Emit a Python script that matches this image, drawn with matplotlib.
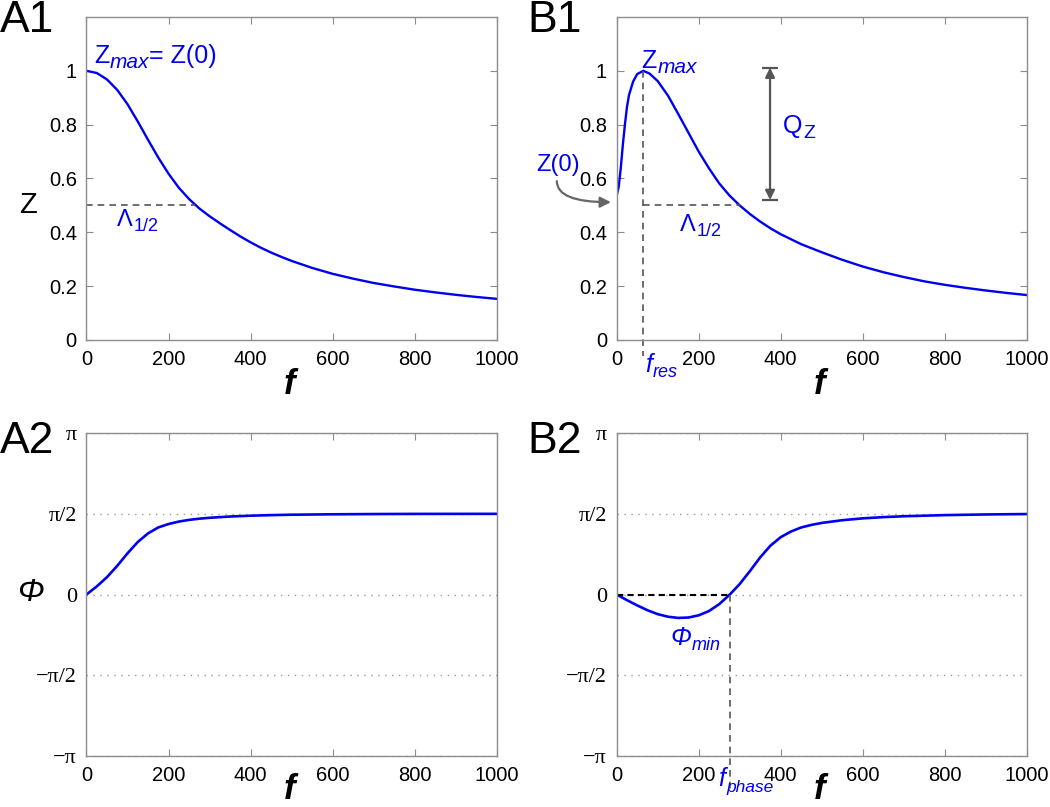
import numpy as np
import matplotlib
matplotlib.use('Agg')
from matplotlib import pyplot as plt

plt.rcParams['font.family'] = 'Liberation Sans'

# impedance profile, panel A1 (low-pass)
f_a1 = [0, 25, 50, 75, 100, 125, 150, 175, 200, 225, 250, 275, 300, 325,
        350, 375, 400, 425, 450, 475, 500, 550, 600, 650, 700, 750, 800,
        850, 900, 950, 1000]
z_a1 = [1.0, 0.992, 0.968, 0.929, 0.876, 0.812, 0.744, 0.678, 0.618, 0.566,
        0.524, 0.489, 0.460, 0.434, 0.409, 0.385, 0.363, 0.343, 0.325, 0.309,
        0.294, 0.268, 0.246, 0.228, 0.212, 0.199, 0.187, 0.177, 0.168, 0.160,
        0.153]

# impedance profile, panel B1 (resonant)
f_b1 = [0, 5, 10, 15, 20, 25, 30, 40, 50, 65, 80, 100, 125, 150, 175, 200,
        225, 250, 275, 300, 325, 350, 375, 400, 450, 500, 550, 600, 650, 700,
        750, 800, 850, 900, 950, 1000]
z_b1 = [0.537, 0.57, 0.64, 0.725, 0.80, 0.865, 0.91, 0.96, 0.988, 1.0, 0.99,
        0.962, 0.908, 0.84, 0.77, 0.70, 0.638, 0.582, 0.537, 0.50, 0.468,
        0.44, 0.415, 0.393, 0.356, 0.326, 0.298, 0.273, 0.252, 0.234, 0.218,
        0.205, 0.194, 0.184, 0.175, 0.167]

# phase profiles (rad)
f_a2 = [0, 25, 50, 75, 100, 125, 150, 175, 200, 225, 250, 275, 300, 350,
        400, 450, 500, 600, 700, 800, 1000]
p_a2 = [0, 0.157, 0.338, 0.558, 0.801, 1.021, 1.189, 1.304, 1.371, 1.418,
        1.451, 1.475, 1.492, 1.517, 1.533, 1.544, 1.552, 1.560, 1.565, 1.568,
        1.569]

f_b2 = [0, 25, 50, 75, 100, 125, 150, 175, 200, 225, 250, 276, 300, 325,
        350, 375, 400, 425, 450, 475, 500, 550, 600, 650, 700, 800, 900, 1000]
p_b2 = [0, -0.110, -0.212, -0.306, -0.382, -0.432, -0.456, -0.448, -0.405,
        -0.322, -0.188, 0, 0.204, 0.456, 0.723, 0.950, 1.115, 1.225, 1.304,
        1.354, 1.392, 1.445, 1.481, 1.505, 1.522, 1.544, 1.557, 1.565]

f_res = 65
f_half_a = 265
f_half_b = 300
f_phase = 276

blue = '#0000f0'
gray = '#555555'
axcol = '#8c8c8c'

W, H = 1050, 807
fig = plt.figure(figsize=(W / 100, H / 100), dpi=100)


def box(left, top, right, bottom):
    return [left / W, 1 - bottom / H, (right - left) / W, (bottom - top) / H]


def style(ax):
    for s in ax.spines.values():
        s.set_color(axcol)
        s.set_linewidth(1)
    ax.tick_params(direction='in', top=True, right=True, length=5,
                   color=axcol, labelsize=14.5, labelcolor='black', pad=7)
    ax.set_xlim(0, 1000)
    ax.set_xticks(range(0, 1001, 200))


def sub_label(ax, x, y, main, sub, size, sub_size, style_main='normal',
              style_sub='italic', dy=-3, **kw):
    t = ax.text(x, y, main, fontsize=size, fontstyle=style_main, color=blue,
                ha='left', va='baseline', **kw)
    s = ax.annotate(sub, xy=(1, 0), xycoords=t, xytext=(0.5, dy),
                    textcoords='offset points', fontsize=sub_size,
                    fontstyle=style_sub, color=blue, ha='left', va='bottom',
                    annotation_clip=False)
    return t, s


def z_axes(ax):
    style(ax)
    ax.set_ylim(0, 1.2)
    ax.set_yticks([0, 0.2, 0.4, 0.6, 0.8, 1])
    ax.set_yticklabels(['0', '0.2', '0.4', '0.6', '0.8', '1'])


def phase_axes(ax):
    style(ax)
    ax.set_ylim(-np.pi, np.pi)
    ax.set_yticks([-np.pi, -np.pi / 2, 0, np.pi / 2, np.pi])
    ax.set_yticklabels(['\u2212\u03c0', '\u2212\u03c0/2', '0', '\u03c0/2', '\u03c0'],
                       fontfamily='Liberation Serif', fontsize=16)
    ax.yaxis.grid(True, linestyle=(0, (1, 4)), color='#9a9a9a', linewidth=1)
    ax.tick_params(axis='y', length=0)


def f_label(ax, y):
    ax.text(0.496, y, 'f', transform=ax.transAxes, fontsize=25,
            fontweight='bold', fontstyle='italic', ha='center', va='center')


# ---------- A1
axA1 = fig.add_axes(box(86.5, 17, 496.5, 340))
z_axes(axA1)
axA1.plot(f_a1, z_a1, color=blue, lw=1.7)
axA1.plot([0, f_half_a], [0.5, 0.5], color=gray, lw=1.2, dashes=(4, 3))
t, s = sub_label(axA1, 18, 1.03, 'Z', 'max', 18, 15)
axA1.annotate('= Z(0)', xy=(1, 0), xycoords=(s, t), xytext=(0, 0),
              textcoords='offset points', fontsize=18, color=blue,
              ha='left', va='bottom')
sub_label(axA1, 74, 0.425, '\u039b', '1/2', 17, 13, style_sub='normal')
axA1.text(-0.143, 0.418, 'Z', transform=axA1.transAxes, fontsize=21,
          ha='center', va='center')
f_label(axA1, -0.139)

# ---------- B1
axB1 = fig.add_axes(box(616.7, 17, 1026.7, 340))
z_axes(axB1)
axB1.plot(f_b1, z_b1, color=blue, lw=1.7)
axB1.plot([f_res, f_res], [1.0, -0.06], color=gray, lw=1.2, dashes=(4, 3),
          clip_on=False)
axB1.plot([f_res, f_half_b], [0.5, 0.5], color=gray, lw=1.2, dashes=(4, 3))
sub_label(axB1, 60, 1.012, 'Z', 'max', 18, 15)
sub_label(axB1, 154, 0.405, '\u039b', '1/2', 17, 13, style_sub='normal')
sub_label(axB1, 405, 0.77, 'Q', 'Z', 18, 14, style_sub='normal')
sub_label(axB1, 70, -0.12, 'f', 'res', 18, 13, style_main='italic',
          clip_on=False)
axB1.annotate('', xy=(374, 0.52), xytext=(374, 1.012),
              arrowprops=dict(arrowstyle='<|-|>', color=gray, lw=1.6,
                              mutation_scale=14, shrinkA=0, shrinkB=0))
axB1.plot([374, 374], [1.012, 0.52], ls='none', marker='_', ms=12, mew=1.6,
          color=gray)
axB1.text(-143, 0.652, 'Z(0)', fontsize=17, color=blue, ha='center',
          va='center', clip_on=False)
axB1.annotate('', xy=(-14, 0.512), xytext=(-146, 0.59),
              arrowprops=dict(arrowstyle='-|>', color='#666666', lw=1.6,
                              mutation_scale=16, shrinkA=0, shrinkB=0,
                              connectionstyle='angle3,angleA=-90,angleB=0'),
              annotation_clip=False)
f_label(axB1, -0.139)

# ---------- A2
axA2 = fig.add_axes(box(86.5, 433, 496.5, 756))
phase_axes(axA2)
axA2.plot(f_a2, p_a2, color=blue, lw=1.9)
axA2.text(-0.138, 0.505, '\u03a6', transform=axA2.transAxes, fontsize=23,
          fontstyle='italic', ha='center', va='center')
f_label(axA2, -0.105)

# ---------- B2
axB2 = fig.add_axes(box(616.7, 433, 1026.7, 756))
phase_axes(axB2)
axB2.plot(f_b2, p_b2, color=blue, lw=1.9)
axB2.plot([0, f_phase], [0, 0], color='black', lw=1.5, dashes=(3, 2))
axB2.plot([f_phase, f_phase], [0, -3.85], color=gray, lw=1.2, dashes=(4, 3),
          clip_on=False)
sub_label(axB2, 130, -0.98, '\u03a6', 'min', 18, 13, style_main='italic')
sub_label(axB2, 248, -3.72, 'f', 'phase', 18, 12.5, style_main='italic',
          clip_on=False)
f_label(axB2, -0.105)

# panel letters
for lab, x, y in [('A1', 0, 0), ('B1', 527, 0), ('A2', 0, 421), ('B2', 527, 421)]:
    fig.text(x / W, 1 - y / H, lab, fontsize=32, va='top', ha='left')

fig.savefig('out.png', dpi=100)
